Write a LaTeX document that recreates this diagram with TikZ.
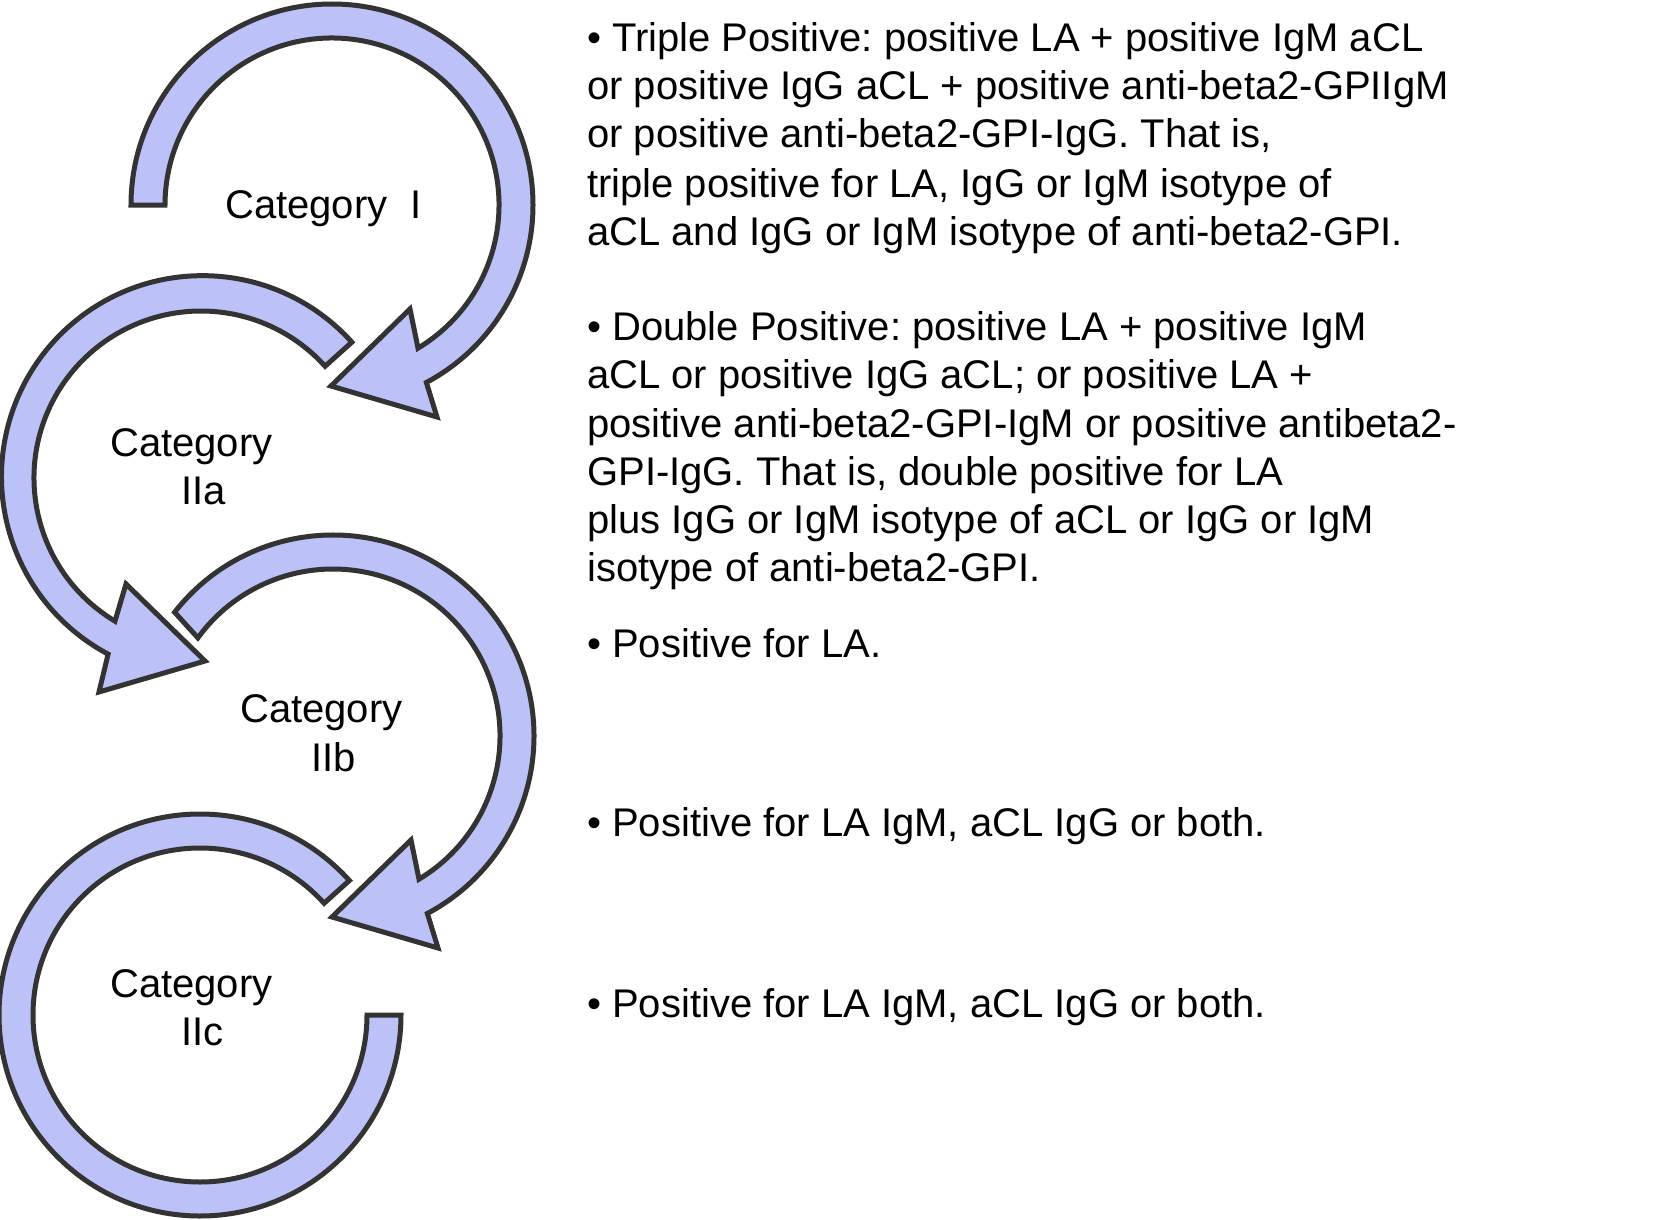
\documentclass[tikz,border=0pt]{standalone}
\usepackage{fontspec}
\setmainfont{Liberation Sans}
\frenchspacing
\definecolor{bandfill}{RGB}{188,194,247}
\definecolor{bandline}{RGB}{51,51,51}
\begin{document}
\begin{tikzpicture}[x=1pt,y=1pt,
  band/.style={fill=bandfill,draw=bandline,line width=5pt,line join=miter},
  txt/.style={anchor=base west,inner sep=0pt,font=\fontsize{40pt}{48pt}\selectfont},
  cat/.style={anchor=base west,inner sep=0pt,font=\fontsize{40pt}{48pt}\selectfont}]
\useasboundingbox (0,0) rectangle (1657,-1220);
\fill[white] (0,0) rectangle (1657,-1220);
% centres of the four circular arrows
\coordinate (c1) at (332,-205);
\coordinate (c2) at (201,-478);
\coordinate (c3) at (333,-736);
\coordinate (c4) at (200,-1015);
% arrow 1 (Category I)
\begin{scope}[shift={(c1)}]
\draw[band] (180:201pt) arc[start angle=180,end angle=-62,radius=201pt]
  -- (105,-212) -- (-1,-181) -- (78,-104) -- (-59:167pt)
  arc[start angle=-59,end angle=180,radius=167pt] -- cycle;
\end{scope}
% arrow 2 (Category IIa)
\begin{scope}[shift={(c2)}]
\draw[band] (42:203pt) arc[start angle=42,end angle=242,radius=201pt]
  -- (-102,-214) -- (4,-183) -- (-75,-106) -- (239:167pt)
  arc[start angle=239,end angle=42,radius=167pt] -- cycle;
\end{scope}
% arrow 3 (Category IIb)
\begin{scope}[shift={(c3)}]
\draw[band] (142:201pt) arc[start angle=142,end angle=-62,radius=201pt]
  -- (105,-212) -- (-1,-181) -- (78,-104) -- (-59:167pt)
  arc[start angle=-59,end angle=144,radius=167pt] -- cycle;
\end{scope}
% arrow 4 (Category IIc)
\begin{scope}[shift={(c4)}]
\draw[band] (42:201pt) arc[start angle=42,end angle=360,radius=201pt]
  -- (0:167pt)
  arc[start angle=360,end angle=42,radius=167pt] -- cycle;
\end{scope}
% category labels
\node[cat] (catI) at (225,-218) {Category\hspace{23pt}I};
\node[cat] (catIIa1) at (110,-456) {Category};
\node[cat] (catIIa2) at (181,-504) {IIa};
\node[cat] (catIIb1) at (240,-722) {Category};
\node[cat] (catIIb2) at (311,-771) {IIb};
\node[cat] (catIIc1) at (110,-997) {Category};
\node[cat] (catIIc2) at (181,-1045) {IIc};
% right-hand text
\node[txt] (ta1) at (587,-52) {• Triple Positive: positive LA + positive IgM aCL};
\node[txt] (ta2) at (587,-100) {or positive IgG aCL + positive anti-beta2-GPIIgM};
\node[txt] (ta3) at (587,-148) {or positive anti-beta2-GPI-IgG. That is,};
\node[txt] (ta4) at (587,-197) {triple positive for LA, IgG or IgM isotype of};
\node[txt] (ta5) at (587,-245) {aCL and IgG or IgM isotype of anti-beta2-GPI.};
\node[txt] (tb1) at (587,-340) {• Double Positive: positive LA + positive IgM};
\node[txt] (tb2) at (587,-388) {aCL or positive IgG aCL; or positive LA +};
\node[txt] (tb3) at (587,-437) {positive anti-beta2-GPI-IgM or positive antibeta2-};
\node[txt] (tb4) at (587,-485) {GPI-IgG. That is, double positive for LA};
\node[txt] (tb5) at (587,-533) {plus IgG or IgM isotype of aCL or IgG or IgM};
\node[txt] (tb6) at (587,-581) {isotype of anti-beta2-GPI.};
\node[txt] (tc) at (587,-657) {• Positive for LA.};
\node[txt] (td) at (587,-836) {• Positive for LA IgM, aCL IgG or both.};
\node[txt] (te) at (587,-1017) {• Positive for LA IgM, aCL IgG or both.};
\end{tikzpicture}
\end{document}
